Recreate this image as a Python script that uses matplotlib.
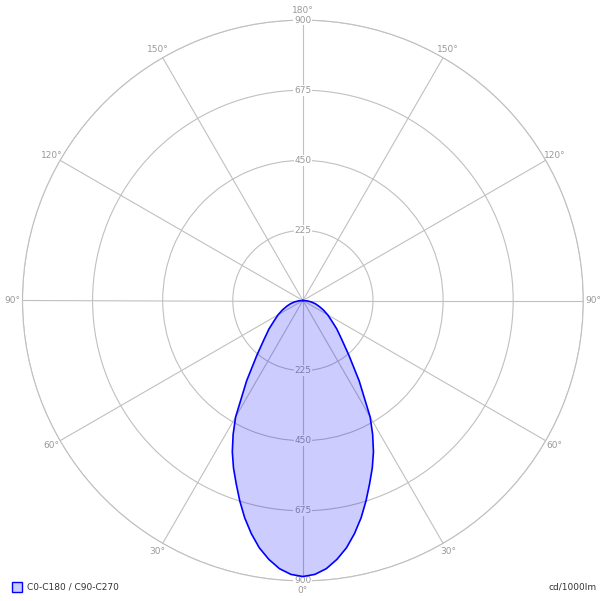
import numpy as np
import matplotlib

matplotlib.use("Agg")
import matplotlib.pyplot as plt

# half-plane angles (deg from nadir) and intensity in cd/1000lm
angles = [0, 2.5, 5, 7.5, 10, 12.5, 15, 17.5, 20, 22.5, 25, 27.5, 30,
          35, 40, 45, 50, 55, 60, 65, 70, 75, 80, 85, 90]
intensity = [886, 880, 864, 838, 806, 766, 722, 674, 626, 582, 536, 485, 432,
             315, 230, 176, 142, 112, 92, 73, 56, 42, 28, 14, 0]

ring_values = [225, 450, 675, 900]
angle_ticks = [0, 30, 60, 90, 120, 150, 180]
series_label = "C0-C180 / C90-C270"
unit_label = "cd/1000lm"

grid_color = "#c0c0c0"
text_color = "#999999"

# mirror the half curve to get the full C0-C180 plane
theta_deg = [-a for a in angles[::-1]] + angles[1:]
r_full = intensity[::-1] + intensity[1:]
theta = np.radians(theta_deg)

fig = plt.figure(figsize=(6.03, 6.01), dpi=100)
ax = fig.add_axes([0.0373, 0.0333, 0.930, 0.9334], projection="polar")
ax.set_theta_zero_location("S")
ax.set_ylim(0, 900)
ax.set_xticks(np.radians(np.arange(0, 360, 30)))
ax.set_yticks(ring_values)
ax.set_xticklabels([])
ax.set_yticklabels([])
ax.grid(True, color=grid_color, linewidth=0.8)
ax.spines["polar"].set_color(grid_color)
ax.spines["polar"].set_linewidth(0.8)
ax.set_facecolor("white")

# radial value labels on the vertical axis, top and bottom
for v in ring_values:
    for t in (0, np.pi):
        ax.text(t, v, str(v), ha="center", va="center", fontsize=6.5,
                color=text_color, zorder=3,
                bbox=dict(facecolor="white", edgecolor="none", pad=0.6))

# angle labels just outside the outer ring
for a in angle_ticks:
    for sgn in ((1, -1) if a not in (0, 180) else (1,)):
        ax.text(np.radians(sgn * a), 932, f"{a}°", ha="center", va="center",
                fontsize=6.5, color=text_color, zorder=3)

ax.fill(theta, r_full, color="#0000ff", alpha=0.2, linewidth=0, zorder=4)
ax.plot(theta, r_full, color="#0000ff", linewidth=1.2, zorder=5)
for child in ax.texts:
    child.set_clip_on(False)

# legend box and unit label along the bottom
fig.patches.append(plt.Rectangle((12 / 603, 1 - 592 / 601), 10 / 603, 10 / 601,
                                 transform=fig.transFigure, facecolor="#ccccff",
                                 edgecolor="#0000ff", linewidth=1.0))
fig.text(27 / 603, 1 - 587 / 601, series_label, ha="left", va="center",
         fontsize=6.5, color="#333333")
fig.text(597 / 603, 1 - 587 / 601, unit_label, ha="right", va="center",
         fontsize=6.5, color="#333333")

fig.savefig("out.png", dpi=100, facecolor="white")
